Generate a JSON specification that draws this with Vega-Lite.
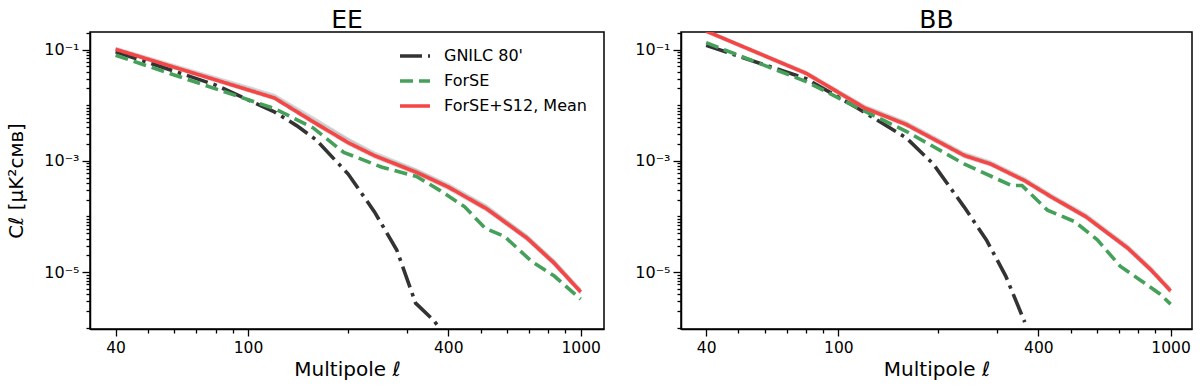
{
  "$schema": "https://vega.github.io/schema/vega-lite/v6.json",
  "autosize": {"type": "none"},
  "padding": {"left": 90, "top": 32, "right": 1110, "bottom": 354},
  "bounds": "flush",
  "spacing": 77,
  "background": "white",
  "config": {
    "view": {"stroke": "black", "strokeWidth": 1.5},
    "font": "DejaVu Sans",
    "axis": {"grid": false, "domainColor": "black", "domainWidth": 1.5, "tickColor": "black", "tickWidth": 1.3, "labelColor": "black", "titleColor": "black", "labelFont": "DejaVu Sans", "titleFont": "DejaVu Sans", "labelFontSize": 15.5, "titleFontWeight": "normal", "titleFontSize": 20, "labelOverlap": false, "labelFlush": false},
    "title": {"font": "DejaVu Sans", "fontSize": 25, "fontWeight": "normal", "color": "black", "offset": 4, "dy": 12}
  },
  "resolve": {"scale": {"color": "independent", "strokeDash": "independent"}, "legend": {"color": "independent", "strokeDash": "independent"}},
  "datasets": {
    "main": [
      {"panel": "EE", "series": "GNILC 80'", "l": 40, "c": 0.091},
      {"panel": "EE", "series": "GNILC 80'", "l": 60, "c": 0.041},
      {"panel": "EE", "series": "GNILC 80'", "l": 80, "c": 0.023},
      {"panel": "EE", "series": "GNILC 80'", "l": 100, "c": 0.0125},
      {"panel": "EE", "series": "GNILC 80'", "l": 120, "c": 0.0076},
      {"panel": "EE", "series": "GNILC 80'", "l": 140, "c": 0.0043},
      {"panel": "EE", "series": "GNILC 80'", "l": 160, "c": 0.0024},
      {"panel": "EE", "series": "GNILC 80'", "l": 200, "c": 0.00058},
      {"panel": "EE", "series": "GNILC 80'", "l": 240, "c": 0.000121},
      {"panel": "EE", "series": "GNILC 80'", "l": 280, "c": 0.000025},
      {"panel": "EE", "series": "GNILC 80'", "l": 319, "c": 0.00000277},
      {"panel": "EE", "series": "GNILC 80'", "l": 362, "c": 0.00000135},
      {"panel": "EE", "series": "GNILC 80'", "l": 400, "c": 0.0000006},
      {"panel": "EE", "series": "ForSE", "l": 40, "c": 0.079},
      {"panel": "EE", "series": "ForSE", "l": 60, "c": 0.035},
      {"panel": "EE", "series": "ForSE", "l": 80, "c": 0.0197},
      {"panel": "EE", "series": "ForSE", "l": 120, "c": 0.0087},
      {"panel": "EE", "series": "ForSE", "l": 157, "c": 0.0039},
      {"panel": "EE", "series": "ForSE", "l": 194, "c": 0.00142},
      {"panel": "EE", "series": "ForSE", "l": 253, "c": 0.000766},
      {"panel": "EE", "series": "ForSE", "l": 321, "c": 0.000524},
      {"panel": "EE", "series": "ForSE", "l": 377, "c": 0.000295},
      {"panel": "EE", "series": "ForSE", "l": 448, "c": 0.000149},
      {"panel": "EE", "series": "ForSE", "l": 517, "c": 0.000061},
      {"panel": "EE", "series": "ForSE", "l": 590, "c": 0.000044},
      {"panel": "EE", "series": "ForSE", "l": 711, "c": 0.0000157},
      {"panel": "EE", "series": "ForSE", "l": 833, "c": 0.0000085},
      {"panel": "EE", "series": "ForSE", "l": 1000, "c": 0.00000327},
      {"panel": "EE", "series": "ForSE+S12, Mean", "l": 40, "c": 0.101},
      {"panel": "EE", "series": "ForSE+S12, Mean", "l": 80, "c": 0.0285},
      {"panel": "EE", "series": "ForSE+S12, Mean", "l": 120, "c": 0.0135},
      {"panel": "EE", "series": "ForSE+S12, Mean", "l": 160, "c": 0.0047},
      {"panel": "EE", "series": "ForSE+S12, Mean", "l": 200, "c": 0.00213},
      {"panel": "EE", "series": "ForSE+S12, Mean", "l": 240, "c": 0.00124},
      {"panel": "EE", "series": "ForSE+S12, Mean", "l": 320, "c": 0.000625},
      {"panel": "EE", "series": "ForSE+S12, Mean", "l": 400, "c": 0.000338},
      {"panel": "EE", "series": "ForSE+S12, Mean", "l": 520, "c": 0.000139},
      {"panel": "EE", "series": "ForSE+S12, Mean", "l": 690, "c": 0.0000407},
      {"panel": "EE", "series": "ForSE+S12, Mean", "l": 830, "c": 0.0000147},
      {"panel": "EE", "series": "ForSE+S12, Mean", "l": 1000, "c": 0.0000044},
      {"panel": "BB", "series": "GNILC 80'", "l": 40, "c": 0.119},
      {"panel": "BB", "series": "GNILC 80'", "l": 80, "c": 0.030},
      {"panel": "BB", "series": "GNILC 80'", "l": 114, "c": 0.0089},
      {"panel": "BB", "series": "GNILC 80'", "l": 160, "c": 0.0026},
      {"panel": "BB", "series": "GNILC 80'", "l": 193, "c": 0.00088},
      {"panel": "BB", "series": "GNILC 80'", "l": 239, "c": 0.000149},
      {"panel": "BB", "series": "GNILC 80'", "l": 279, "c": 0.000038},
      {"panel": "BB", "series": "GNILC 80'", "l": 319, "c": 0.0000085},
      {"panel": "BB", "series": "GNILC 80'", "l": 364, "c": 0.00000126},
      {"panel": "BB", "series": "ForSE", "l": 40, "c": 0.133},
      {"panel": "BB", "series": "ForSE", "l": 80, "c": 0.0266},
      {"panel": "BB", "series": "ForSE", "l": 120, "c": 0.0078},
      {"panel": "BB", "series": "ForSE", "l": 160, "c": 0.0034},
      {"panel": "BB", "series": "ForSE", "l": 239, "c": 0.00088},
      {"panel": "BB", "series": "ForSE", "l": 332, "c": 0.00036},
      {"panel": "BB", "series": "ForSE", "l": 357, "c": 0.00036},
      {"panel": "BB", "series": "ForSE", "l": 426, "c": 0.00013},
      {"panel": "BB", "series": "ForSE", "l": 514, "c": 0.000081},
      {"panel": "BB", "series": "ForSE", "l": 602, "c": 0.000038},
      {"panel": "BB", "series": "ForSE", "l": 705, "c": 0.0000128},
      {"panel": "BB", "series": "ForSE", "l": 805, "c": 0.0000074},
      {"panel": "BB", "series": "ForSE", "l": 931, "c": 0.000004},
      {"panel": "BB", "series": "ForSE", "l": 1000, "c": 0.00000266},
      {"panel": "BB", "series": "ForSE+S12, Mean", "l": 40, "c": 0.215},
      {"panel": "BB", "series": "ForSE+S12, Mean", "l": 80, "c": 0.0374},
      {"panel": "BB", "series": "ForSE+S12, Mean", "l": 120, "c": 0.0089},
      {"panel": "BB", "series": "ForSE+S12, Mean", "l": 160, "c": 0.0045},
      {"panel": "BB", "series": "ForSE+S12, Mean", "l": 240, "c": 0.00124},
      {"panel": "BB", "series": "ForSE+S12, Mean", "l": 287, "c": 0.00088},
      {"panel": "BB", "series": "ForSE+S12, Mean", "l": 364, "c": 0.00044},
      {"panel": "BB", "series": "ForSE+S12, Mean", "l": 438, "c": 0.000224},
      {"panel": "BB", "series": "ForSE+S12, Mean", "l": 556, "c": 0.000099},
      {"panel": "BB", "series": "ForSE+S12, Mean", "l": 743, "c": 0.000027},
      {"panel": "BB", "series": "ForSE+S12, Mean", "l": 871, "c": 0.0000111},
      {"panel": "BB", "series": "ForSE+S12, Mean", "l": 1000, "c": 0.0000046}
    ],
    "runs": [
      {"panel": "EE", "run": 1, "l": 40, "c": 0.108}, {"panel": "EE", "run": 1, "l": 80, "c": 0.032}, {"panel": "EE", "run": 1, "l": 120, "c": 0.0155}, {"panel": "EE", "run": 1, "l": 160, "c": 0.0056}, {"panel": "EE", "run": 1, "l": 200, "c": 0.0025}, {"panel": "EE", "run": 1, "l": 240, "c": 0.00142}, {"panel": "EE", "run": 1, "l": 320, "c": 0.00071}, {"panel": "EE", "run": 1, "l": 400, "c": 0.00038}, {"panel": "EE", "run": 1, "l": 520, "c": 0.000158}, {"panel": "EE", "run": 1, "l": 690, "c": 0.0000455}, {"panel": "EE", "run": 1, "l": 830, "c": 0.0000165}, {"panel": "EE", "run": 1, "l": 1000, "c": 0.0000049},
      {"panel": "EE", "run": 2, "l": 40, "c": 0.096}, {"panel": "EE", "run": 2, "l": 80, "c": 0.027}, {"panel": "EE", "run": 2, "l": 120, "c": 0.0128}, {"panel": "EE", "run": 2, "l": 160, "c": 0.0044}, {"panel": "EE", "run": 2, "l": 200, "c": 0.00198}, {"panel": "EE", "run": 2, "l": 240, "c": 0.00115}, {"panel": "EE", "run": 2, "l": 320, "c": 0.00058}, {"panel": "EE", "run": 2, "l": 400, "c": 0.00031}, {"panel": "EE", "run": 2, "l": 520, "c": 0.000128}, {"panel": "EE", "run": 2, "l": 690, "c": 0.0000375}, {"panel": "EE", "run": 2, "l": 830, "c": 0.0000135}, {"panel": "EE", "run": 2, "l": 1000, "c": 0.0000041},
      {"panel": "EE", "run": 3, "l": 40, "c": 0.104}, {"panel": "EE", "run": 3, "l": 80, "c": 0.030}, {"panel": "EE", "run": 3, "l": 120, "c": 0.0146}, {"panel": "EE", "run": 3, "l": 160, "c": 0.0052}, {"panel": "EE", "run": 3, "l": 200, "c": 0.0024}, {"panel": "EE", "run": 3, "l": 240, "c": 0.00132}, {"panel": "EE", "run": 3, "l": 320, "c": 0.00068}, {"panel": "EE", "run": 3, "l": 400, "c": 0.00036}, {"panel": "EE", "run": 3, "l": 520, "c": 0.00015}, {"panel": "EE", "run": 3, "l": 690, "c": 0.000044}, {"panel": "EE", "run": 3, "l": 830, "c": 0.0000158}, {"panel": "EE", "run": 3, "l": 1000, "c": 0.0000047},
      {"panel": "EE", "run": 4, "l": 40, "c": 0.099}, {"panel": "EE", "run": 4, "l": 80, "c": 0.029}, {"panel": "EE", "run": 4, "l": 120, "c": 0.014}, {"panel": "EE", "run": 4, "l": 160, "c": 0.005}, {"panel": "EE", "run": 4, "l": 200, "c": 0.0022}, {"panel": "EE", "run": 4, "l": 240, "c": 0.00128}, {"panel": "EE", "run": 4, "l": 320, "c": 0.00066}, {"panel": "EE", "run": 4, "l": 400, "c": 0.00035}, {"panel": "EE", "run": 4, "l": 520, "c": 0.000145}, {"panel": "EE", "run": 4, "l": 690, "c": 0.0000425}, {"panel": "EE", "run": 4, "l": 830, "c": 0.0000152}, {"panel": "EE", "run": 4, "l": 1000, "c": 0.0000045},
      {"panel": "BB", "run": 1, "l": 40, "c": 0.225}, {"panel": "BB", "run": 1, "l": 80, "c": 0.040}, {"panel": "BB", "run": 1, "l": 120, "c": 0.0098}, {"panel": "BB", "run": 1, "l": 160, "c": 0.005}, {"panel": "BB", "run": 1, "l": 240, "c": 0.00138}, {"panel": "BB", "run": 1, "l": 287, "c": 0.00098}, {"panel": "BB", "run": 1, "l": 364, "c": 0.00049}, {"panel": "BB", "run": 1, "l": 438, "c": 0.000248}, {"panel": "BB", "run": 1, "l": 556, "c": 0.00011}, {"panel": "BB", "run": 1, "l": 743, "c": 0.00003}, {"panel": "BB", "run": 1, "l": 871, "c": 0.0000124}, {"panel": "BB", "run": 1, "l": 1000, "c": 0.0000051},
      {"panel": "BB", "run": 2, "l": 40, "c": 0.205}, {"panel": "BB", "run": 2, "l": 80, "c": 0.035}, {"panel": "BB", "run": 2, "l": 120, "c": 0.0083}, {"panel": "BB", "run": 2, "l": 160, "c": 0.0042}, {"panel": "BB", "run": 2, "l": 240, "c": 0.00115}, {"panel": "BB", "run": 2, "l": 287, "c": 0.00082}, {"panel": "BB", "run": 2, "l": 364, "c": 0.00041}, {"panel": "BB", "run": 2, "l": 438, "c": 0.000208}, {"panel": "BB", "run": 2, "l": 556, "c": 0.000092}, {"panel": "BB", "run": 2, "l": 743, "c": 0.000025}, {"panel": "BB", "run": 2, "l": 871, "c": 0.0000103}, {"panel": "BB", "run": 2, "l": 1000, "c": 0.0000043},
      {"panel": "BB", "run": 3, "l": 40, "c": 0.22}, {"panel": "BB", "run": 3, "l": 80, "c": 0.038}, {"panel": "BB", "run": 3, "l": 120, "c": 0.0094}, {"panel": "BB", "run": 3, "l": 160, "c": 0.0048}, {"panel": "BB", "run": 3, "l": 240, "c": 0.00131}, {"panel": "BB", "run": 3, "l": 287, "c": 0.00093}, {"panel": "BB", "run": 3, "l": 364, "c": 0.00046}, {"panel": "BB", "run": 3, "l": 438, "c": 0.000236}, {"panel": "BB", "run": 3, "l": 556, "c": 0.000104}, {"panel": "BB", "run": 3, "l": 743, "c": 0.0000285}, {"panel": "BB", "run": 3, "l": 871, "c": 0.0000117}, {"panel": "BB", "run": 3, "l": 1000, "c": 0.0000048}
    ]
  },
  "hconcat": [
    {
      "width": 514, "height": 297,
      "title": {"text": "EE"},
      "encoding": {
        "x": {"field": "l", "type": "quantitative", "scale": {"type": "log", "domain": [33.5, 1175], "nice": false, "zero": false},
          "axis": {"title": "Multipole ℓ", "values": [40,50,60,70,80,90,100,200,300,400,500,600,700,800,900,1000],
            "labelExpr": "indexof([40,100,400,1000], datum.value) >= 0 ? '' + datum.value : ''",
            "tickSize": {"condition": {"test": "indexof([40,100,400,1000], datum.value) >= 0", "value": 7}, "value": 4},
            "labelPadding": 4, "titlePadding": 4}},
        "y": {"field": "c", "type": "quantitative", "scale": {"type": "log", "domain": [0.00000095, 0.207], "nice": false, "zero": false},
          "axis": {"title": "Cℓ [μK²ᴄᴍʙ]", "values": [0.000001,0.000002,0.000003,0.000004,0.000005,0.000006,0.000007,0.000008,0.000009,0.00001,0.00002,0.00003,0.00004,0.00005,0.00006,0.00007,0.00008,0.00009,0.0001,0.0002,0.0003,0.0004,0.0005,0.0006,0.0007,0.0008,0.0009,0.001,0.002,0.003,0.004,0.005,0.006,0.007,0.008,0.009,0.01,0.02,0.03,0.04,0.05,0.06,0.07,0.08,0.09,0.1,0.2],
            "labelExpr": "datum.value == 0.1 ? '10⁻¹' : datum.value == 0.001 ? '10⁻³' : datum.value == 0.00001 ? '10⁻⁵' : ''",
            "tickSize": {"condition": {"test": "datum.value == 0.1 || datum.value == 0.001 || datum.value == 0.00001", "value": 8}, "value": 4},
            "labelFontSize": 16, "labelPadding": 3, "titlePadding": 17}}
      },
      "layer": [
        {"data": {"name": "runs"}, "transform": [{"filter": "datum.panel == 'EE'"}],
         "mark": {"type": "line", "clip": true, "color": "#8c8c8c", "opacity": 0.35, "strokeWidth": 2},
         "encoding": {"detail": {"field": "run", "type": "nominal"}}},
        {"data": {"name": "main"}, "transform": [{"filter": "datum.panel == 'EE'"}],
         "mark": {"type": "line", "clip": true, "strokeWidth": 3.6},
         "encoding": {
           "color": {"field": "series", "type": "nominal", "sort": null,
             "scale": {"domain": ["GNILC 80'", "ForSE", "ForSE+S12, Mean"], "range": ["#333333", "#45a05a", "#f54545"]},
             "legend": {"orient": "none", "legendX": 308, "legendY": 7, "title": null, "symbolType": "stroke", "symbolSize": 900, "symbolStrokeWidth": 3.6, "labelFontSize": 16, "labelFont": "DejaVu Sans", "labelColor": "black", "rowPadding": -6.5, "labelOffset": 12, "padding": 0}},
           "strokeDash": {"field": "series", "type": "nominal", "sort": null,
             "scale": {"domain": ["GNILC 80'", "ForSE", "ForSE+S12, Mean"], "range": [[22, 6, 3.5, 6], [13, 6], [1, 0]]},
             "legend": {"orient": "none", "legendX": 308, "legendY": 7, "title": null, "symbolType": "stroke", "symbolSize": 900, "symbolStrokeWidth": 3.6, "labelFontSize": 16, "labelFont": "DejaVu Sans", "labelColor": "black", "rowPadding": -6.5, "labelOffset": 12, "padding": 0}},
           "order": {"field": "l", "type": "quantitative"}
         }}
      ]
    },
    {
      "width": 511, "height": 297,
      "title": {"text": "BB"},
      "encoding": {
        "x": {"field": "l", "type": "quantitative", "scale": {"type": "log", "domain": [33.6, 1160], "nice": false, "zero": false},
          "axis": {"title": "Multipole ℓ", "values": [40,50,60,70,80,90,100,200,300,400,500,600,700,800,900,1000],
            "labelExpr": "indexof([40,100,400,1000], datum.value) >= 0 ? '' + datum.value : ''",
            "tickSize": {"condition": {"test": "indexof([40,100,400,1000], datum.value) >= 0", "value": 7}, "value": 4},
            "labelPadding": 4, "titlePadding": 4}},
        "y": {"field": "c", "type": "quantitative", "scale": {"type": "log", "domain": [0.00000095, 0.207], "nice": false, "zero": false},
          "axis": {"title": null, "values": [0.000001,0.000002,0.000003,0.000004,0.000005,0.000006,0.000007,0.000008,0.000009,0.00001,0.00002,0.00003,0.00004,0.00005,0.00006,0.00007,0.00008,0.00009,0.0001,0.0002,0.0003,0.0004,0.0005,0.0006,0.0007,0.0008,0.0009,0.001,0.002,0.003,0.004,0.005,0.006,0.007,0.008,0.009,0.01,0.02,0.03,0.04,0.05,0.06,0.07,0.08,0.09,0.1,0.2],
            "labelExpr": "datum.value == 0.1 ? '10⁻¹' : datum.value == 0.001 ? '10⁻³' : datum.value == 0.00001 ? '10⁻⁵' : ''",
            "tickSize": {"condition": {"test": "datum.value == 0.1 || datum.value == 0.001 || datum.value == 0.00001", "value": 8}, "value": 4},
            "labelFontSize": 16, "labelPadding": 3}}
      },
      "layer": [
        {"data": {"name": "runs"}, "transform": [{"filter": "datum.panel == 'BB'"}],
         "mark": {"type": "line", "clip": true, "color": "#8c8c8c", "opacity": 0.35, "strokeWidth": 2},
         "encoding": {"detail": {"field": "run", "type": "nominal"}}},
        {"data": {"name": "main"}, "transform": [{"filter": "datum.panel == 'BB'"}],
         "mark": {"type": "line", "clip": true, "strokeWidth": 3.6},
         "encoding": {
           "color": {"field": "series", "type": "nominal", "sort": null,
             "scale": {"domain": ["GNILC 80'", "ForSE", "ForSE+S12, Mean"], "range": ["#333333", "#45a05a", "#f54545"]},
             "legend": null},
           "strokeDash": {"field": "series", "type": "nominal", "sort": null,
             "scale": {"domain": ["GNILC 80'", "ForSE", "ForSE+S12, Mean"], "range": [[22, 6, 3.5, 6], [13, 6], [1, 0]]},
             "legend": null},
           "order": {"field": "l", "type": "quantitative"}
         }}
      ]
    }
  ]
}
